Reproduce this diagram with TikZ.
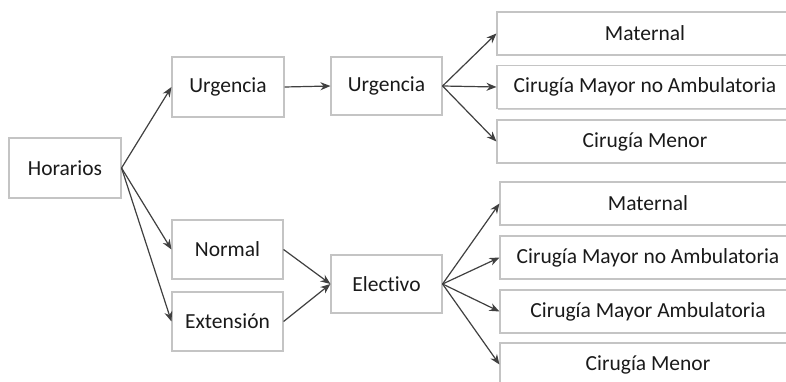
\documentclass[tikz,border=0pt]{standalone}
\usepackage{fontspec}
\setmainfont{Carlito}[Ligatures={NoCommon,NoRare}]
\usetikzlibrary{arrows.meta,shadows}
\definecolor{boxline}{HTML}{C4C4C4}
\definecolor{arrowgray}{HTML}{404040}
\definecolor{textgray}{HTML}{1A1A1A}
\tikzset{
  box/.style={draw=boxline, fill=white, line width=1.1pt, text=textgray,
    font=\fontsize{21.5}{24}\selectfont, inner sep=0pt,
    drop shadow={shadow xshift=1.4pt, shadow yshift=-1.4pt, fill=black!18, opacity=1}},
  midbox/.style={box, minimum width=111pt, minimum height=59pt},
  leafA/.style={box, minimum width=296pt, minimum height=43pt},
  link/.style={draw=arrowgray, line width=1.2pt,
    -{Stealth[length=10pt,width=8pt]}}
}
\begin{document}
\begin{tikzpicture}[x=1pt,y=-1pt]
  \clip (0,0) rectangle (786,382);
  \fill[white] (0,0) rectangle (786,382);

  % root
  \node[midbox, minimum width=112pt, minimum height=60pt] (hor) at (65,168) {Horarios};

  % second level
  \node[midbox, minimum width=112pt, minimum height=60pt] (urg1) at (228,87) {Urgencia};
  \node[midbox] (nor) at (227.5,249.5) {Normal};
  \node[midbox] (ext) at (227.5,321.5) {Extensión};

  % third level
  \node[midbox, minimum height=58pt] (urg2) at (386.5,86) {Urgencia};
  \node[midbox, minimum height=58pt] (ele) at (386.5,284) {Electivo};

  % leaves of the emergency branch
  \node[leafA] (um) at (645,33.5) {Maternal};
  \node[leafA] (uc) at (645,87) {Cirugía Mayor no Ambulatoria};
  \node[leafA] (un) at (645,141.5) {Cirugía Menor};

  % leaves of the elective branch
  \node[leafA] (em) at (648,203.5) {Maternal};
  \node[leafA] (ec) at (648,257.5) {Cirugía Mayor no Ambulatoria};
  \node[leafA] (ea) at (648,311.5) {Cirugía Mayor Ambulatoria};
  \node[leafA] (en) at (648,364.5) {Cirugía Menor};

  % connectors
  \draw[link] (hor.east) -- (urg1.west);
  \draw[link] (hor.east) -- (nor.west);
  \draw[link] (hor.east) -- (ext.west);
  \draw[link] (urg1.east) -- (urg2.west);
  \draw[link] (nor.east) -- (ele.west);
  \draw[link] (ext.east) -- (ele.west);
  \draw[link] (urg2.east) -- (um.west);
  \draw[link] (urg2.east) -- (uc.west);
  \draw[link] (urg2.east) -- (un.west);
  \draw[link] (ele.east) -- (em.west);
  \draw[link] (ele.east) -- (ec.west);
  \draw[link] (ele.east) -- (ea.west);
  \draw[link] (ele.east) -- (en.west);
\end{tikzpicture}
\end{document}
